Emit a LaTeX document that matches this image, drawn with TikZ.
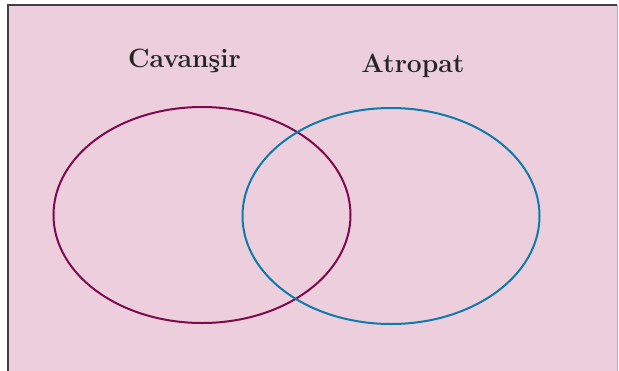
\documentclass[tikz,border=0pt]{standalone}
\usepackage{fontspec}
\usetikzlibrary{shapes.geometric}
\begin{document}
\begin{tikzpicture}[x=1pt,y=-1pt,
  ring/.style={line width=2pt},
  lbl/.style={font=\fontsize{26.5}{30}\selectfont\bfseries, text=black!85, anchor=base, inner sep=0}]
\definecolor{bgpink}{HTML}{ECCEDC}
\definecolor{maroon}{HTML}{7D0A4E}
\definecolor{tealblue}{HTML}{0E7BAA}
\useasboundingbox (0,0) rectangle (619,370);
\fill[bgpink] (8,5) rectangle (617,372);
\draw[black!75, line width=1.2pt] (8,372) -- (8,5) -- (617,5);
\draw[black!30, line width=1pt] (617,5) -- (617,372);
\node[draw=maroon, ring, ellipse, minimum width=297, minimum height=216, inner sep=0] (cav) at (202,215) {};
\node[draw=tealblue, ring, ellipse, minimum width=297, minimum height=216, inner sep=0] (atr) at (391,216) {};
\node[lbl] (tcav) at (184.5,67) {Cavanşir};
\node[lbl] (tatr) at (413,72) {Atropat};
\end{tikzpicture}
\end{document}
